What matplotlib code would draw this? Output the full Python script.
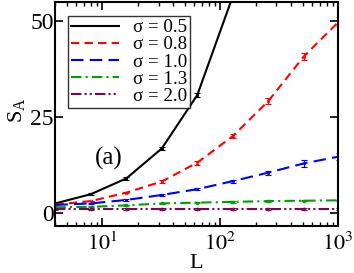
import matplotlib
matplotlib.use("Agg")
import matplotlib.pyplot as plt
from matplotlib.lines import Line2D
import numpy as np

plt.rcParams['font.family'] = ['Liberation Serif', 'DejaVu Serif']
plt.rcParams['mathtext.fontset'] = 'stix'

L = [4, 8, 16, 32, 64, 128, 256, 512, 1024]
sig_labels = ["σ = 0.5", "σ = 0.8", "σ = 1.0", "σ = 1.3", "σ = 2.0"]
s05 = [2.6, 5.0, 9.1, 16.9, 30.8, 56.5]
s05_err = [0.1, 0.2, 0.3, 0.4, 0.5, 0.8]
s08 = [2.3, 3.2, 5.4, 8.3, 13.2, 20.1, 29.2, 40.8, 50.0]
s08_err = [0.1, 0.1, 0.2, 0.3, 0.5, 0.6, 0.8, 1.0, 1.2]
s10 = [2.2, 2.6, 3.5, 4.8, 6.3, 8.4, 10.6, 13.0, 14.8]
s10_err = [0.1, 0.1, 0.2, 0.3, 0.3, 0.4, 0.5, 0.8, 0.8]
s13 = [1.6, 1.7, 2.1, 2.6, 2.8, 3.0, 3.2, 3.3, 3.4]
s13_err = [0.1, 0.1, 0.2, 0.2, 0.2, 0.2, 0.2, 0.2, 0.2]
s20 = [1.1, 1.1, 1.1, 1.1, 1.1, 1.1, 1.1, 1.1, 1.1]
s20_err = [0.1, 0.1, 0.2, 0.2, 0.2, 0.2, 0.2, 0.2, 0.2]

series = [s05, s08, s10, s13, s20]
errs = [s05_err, s08_err, s10_err, s13_err, s20_err]
colors = ['black', '#ff0000', '#0000ff', '#00a000', '#800060']
styles = ['-', (0, (4, 2.5)), (0, (6, 3)), (0, (5, 2, 1, 2)), (0, (5, 1.5, 1, 1.5, 1, 1.5))]
markers = ['s', 'x', '*', 'o', 'o']

fig = plt.figure(figsize=(3.54, 2.73), dpi=100)
ax = fig.add_axes([55/354, 1 - 225.7/273, (338-55)/354, (225.7-2)/273])

handles = []
for y, e, c, ls, m in zip(series, errs, colors, styles, markers):
    n = len(y)
    ax.errorbar(L[:n], y, yerr=e, color=c, linestyle=ls, linewidth=1.5,
                marker=m, markersize=1.8, mfc='none', mew=0.8, capsize=2,
                elinewidth=0.8, capthick=0.8)
    handles.append(Line2D([], [], color=c, linestyle=ls, linewidth=1.5))

ax.set_xscale('log')
ax.set_xlim(3.97, 1000)
ax.set_ylim(-3.2, 55)
ax.set_yticks([0, 25, 50])
ax.set_xticks([10, 100, 1000])
ax.set_xticklabels([r'$10^1$', r'$10^2$', r'$10^3$'])
ax.tick_params(which='both', direction='in', top=True, right=True)
ax.tick_params(axis='y', labelsize=17, pad=1)
ax.tick_params(axis='x', labelsize=16, pad=5)
ax.tick_params(which='major', length=6, width=1.2)
ax.tick_params(which='minor', length=3, width=1.0)
ax.yaxis.set_minor_locator(matplotlib.ticker.NullLocator())
for sp in ax.spines.values():
    sp.set_linewidth(1.5)

ax.set_xlabel('L', fontsize=16)
ax.xaxis.set_label_coords(0.5, -0.125)
ax.set_ylabel(r'S$_\mathregular{A}$', fontsize=16)
ax.yaxis.set_label_coords(-0.10, 0.517)
ax.text(0.19, 0.3, '(a)', transform=ax.transAxes, fontsize=18, ha='center', va='center')

leg = ax.legend(handles, sig_labels, loc='upper left', bbox_to_anchor=(0.047, 0.937),
                fontsize=13.6, frameon=True, fancybox=False, edgecolor='black',
                handlelength=2.55, borderpad=0.15, labelspacing=0.0,
                handletextpad=0.7, borderaxespad=0)
leg.get_frame().set_linewidth(1.0)

fig.savefig('out.png', dpi=100)
